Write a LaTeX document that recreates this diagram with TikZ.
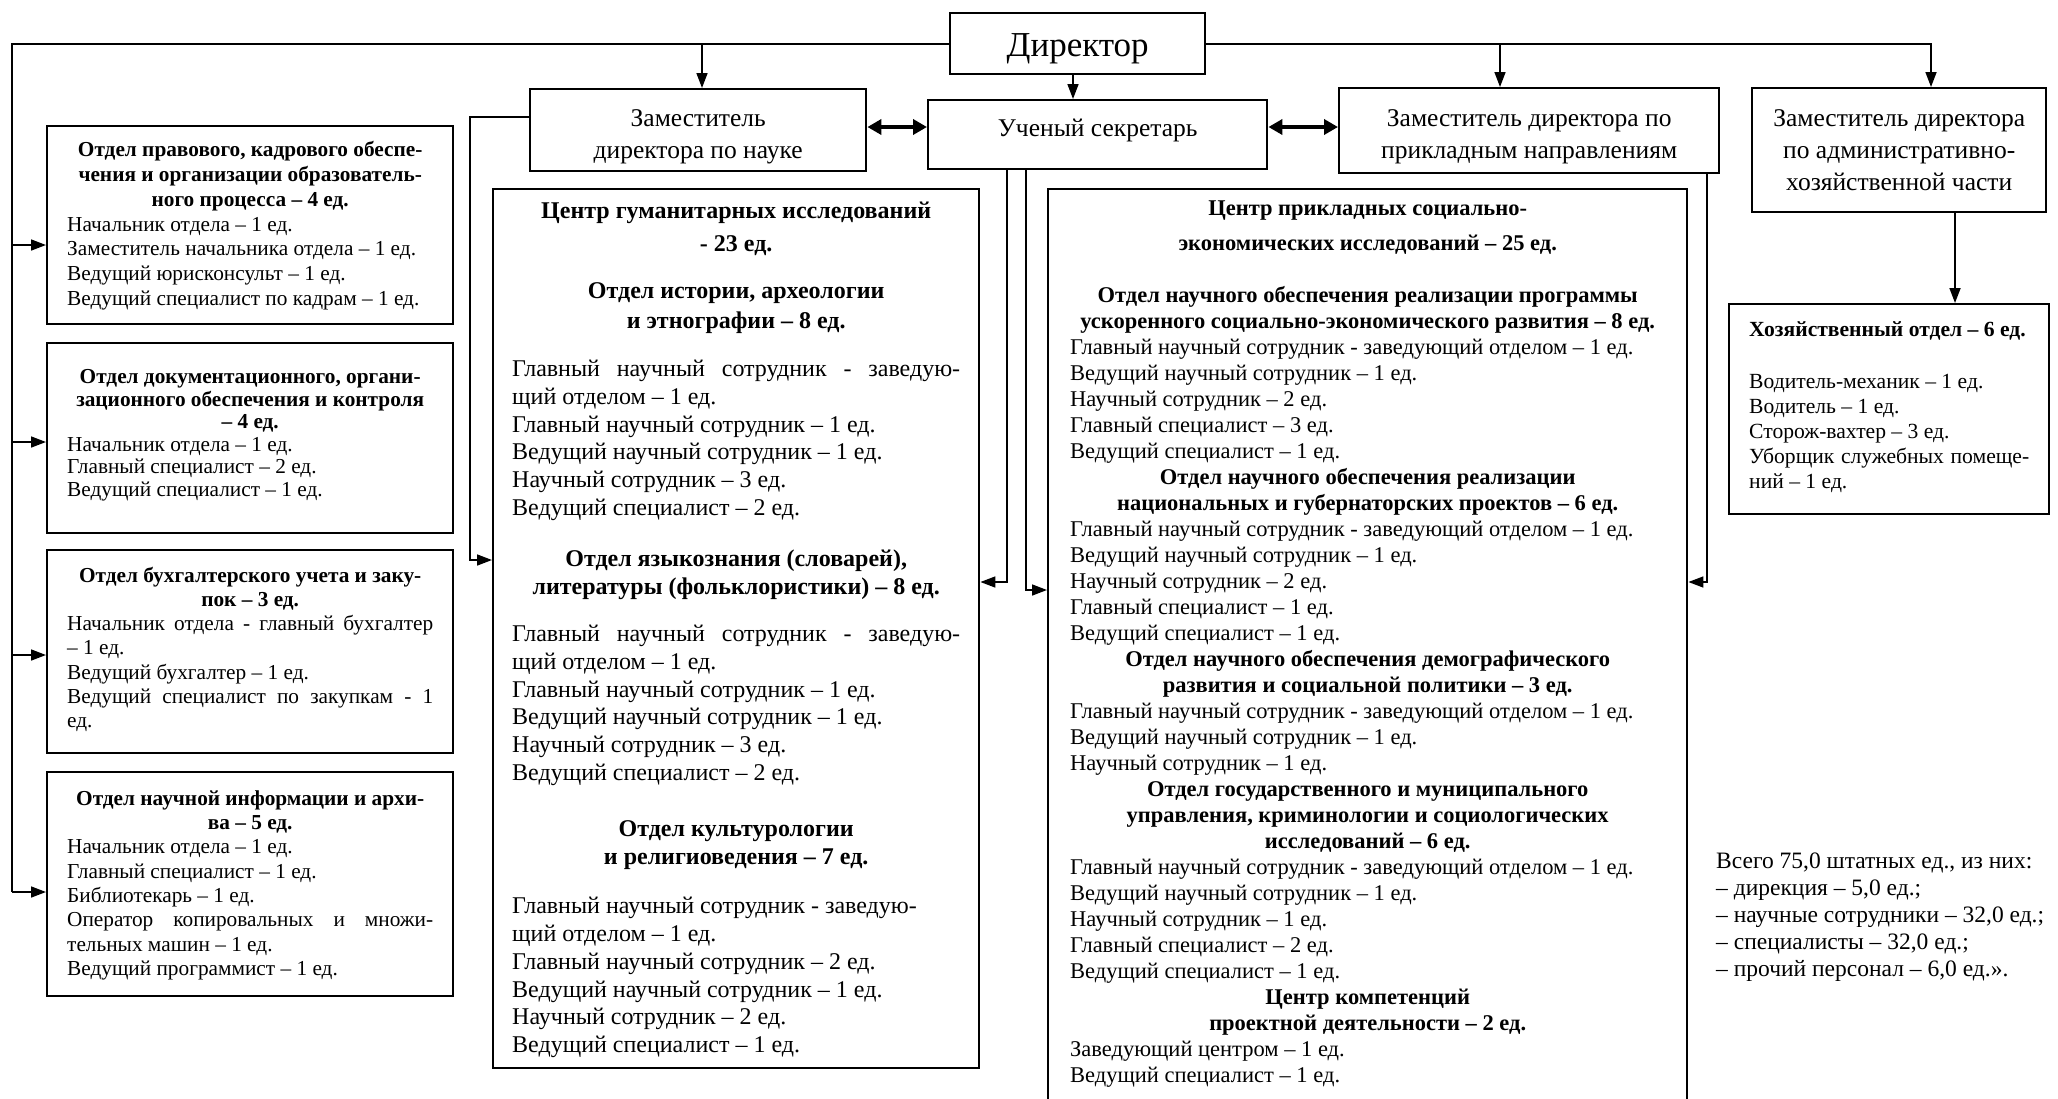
\documentclass[tikz,border=0pt]{standalone}
\usepackage{fontspec}
\setmainfont{Liberation Serif}
\usetikzlibrary{arrows.meta}
\newcommand\mkbox[6]{\parbox[c][#2pt][t]{#1pt}{\fontsize{#4pt}{#5pt}\selectfont\vspace*{#3pt}#6}}
\newcommand\lineC[1]{\makebox[\linewidth][c]{\strut #1}\par}
\newcommand\lineL[1]{\makebox[\linewidth][l]{\strut #1}\par}
\newcommand\lineJ[1]{\makebox[\linewidth][s]{\strut #1}\par}
\newcommand\gapv[1]{\vspace{#1pt}}
\tikzset{
  conn/.style={line width=1.6pt},
  arr/.style={line width=1.6pt, -{Triangle[length=15pt,width=11pt]}},
  dbl/.style={line width=3.8pt, {Triangle[length=14pt,width=15pt]}-{Triangle[length=14pt,width=15pt]}},
  box/.style={draw, line width=2.4pt, inner ysep=0pt, inner xsep=#1, anchor=north west},
  box/.default=0pt
}
\begin{document}
\begin{tikzpicture}[x=1pt,y=-1pt]
\useasboundingbox (0,0) rectangle (2058,1098);
\fill[white] (0,0) rectangle (2058,1098);

% top row
\node[box] (dir) at (949,12) {\mkbox{255}{61}{15}{35}{40}{\lineC{Директор}}};
\node[box] (zn) at (529,88) {\mkbox{336}{82}{14.6}{25.5}{32}{\lineC{Заместитель}\lineC{директора по науке}}};
\node[box] (us) at (927,99) {\mkbox{339}{69}{13.6}{25.5}{32}{\lineC{Ученый секретарь}}};
\node[box] (zp) at (1338,87) {\mkbox{380}{85}{15.6}{25.5}{32}{\lineC{Заместитель директора по}\lineC{прикладным направлениям}}};
\node[box] (ahc) at (1751,87) {\mkbox{294}{124}{16}{25.5}{32}{\lineC{Заместитель директора}\lineC{по административно-}\lineC{хозяйственной части}}};

% left column
\node[box=20pt] (b1) at (46,125) {\mkbox{366}{198}{13.5}{21.3}{24.7}{%
\lineC{\bfseries Отдел правового, кадрового обеспе-}
\lineC{\bfseries чения и организации образователь-}
\lineC{\bfseries ного процесса – 4 ед.}
\lineL{Начальник отдела – 1 ед.}
\lineL{Заместитель начальника отдела – 1 ед.}
\lineL{Ведущий юрисконсульт – 1 ед.}
\lineL{Ведущий специалист по кадрам – 1 ед.}}};

\node[box=20pt] (b2) at (46,342) {\mkbox{366}{190}{24.5}{21.3}{22.6}{%
\lineC{\bfseries Отдел документационного, органи-}
\lineC{\bfseries зационного обеспечения и контроля}
\lineC{\bfseries – 4 ед.}
\lineL{Начальник отдела – 1 ед.}
\lineL{Главный специалист – 2 ед.}
\lineL{Ведущий специалист – 1 ед.}}};

\node[box=20pt] (b3) at (46,549) {\mkbox{366}{203}{15.1}{21.3}{24.2}{%
\lineC{\bfseries Отдел бухгалтерского учета и заку-}
\lineC{\bfseries пок – 3 ед.}
\lineJ{Начальник отдела - главный бухгалтер}
\lineL{– 1 ед.}
\lineL{Ведущий бухгалтер – 1 ед.}
\lineJ{Ведущий специалист по закупкам - 1}
\lineL{ед.}}};

\node[box=20pt] (b4) at (46,771) {\mkbox{366}{224}{16}{21.3}{24.3}{%
\lineC{\bfseries Отдел научной информации и архи-}
\lineC{\bfseries ва – 5 ед.}
\lineL{Начальник отдела – 1 ед.}
\lineL{Главный специалист – 1 ед.}
\lineL{Библиотекарь – 1 ед.}
\lineJ{Оператор копировальных и множи-}
\lineL{тельных машин – 1 ед.}
\lineL{Ведущий программист – 1 ед.}}};

% centre left
\node[box=19pt] (cl) at (492,188) {\mkbox{448}{879}{10.1}{24}{27.7}{%
\lineC{\bfseries Центр гуманитарных исследований}
\gapv{5.3}\lineC{\bfseries - 23 ед.}
\gapv{19.3}\lineC{\bfseries Отдел истории, археологии}
\gapv{2.3}\lineC{\bfseries и этнографии – 8 ед.}
\gapv{20.3}\lineJ{Главный научный сотрудник - заведую-}
\lineL{щий отделом – 1 ед.}
\lineL{Главный научный сотрудник – 1 ед.}
\lineL{Ведущий научный сотрудник – 1 ед.}
\lineL{Научный сотрудник – 3 ед.}
\lineL{Ведущий специалист – 2 ед.}
\gapv{24}\lineC{\bfseries Отдел языкознания (словарей),}
\lineC{\bfseries литературы (фольклористики) – 8 ед.}
\gapv{19.5}\lineJ{Главный научный сотрудник - заведую-}
\lineL{щий отделом – 1 ед.}
\lineL{Главный научный сотрудник – 1 ед.}
\lineL{Ведущий научный сотрудник – 1 ед.}
\lineL{Научный сотрудник – 3 ед.}
\lineL{Ведущий специалист – 2 ед.}
\gapv{28.5}\lineC{\bfseries Отдел культурологии}
\lineC{\bfseries и религиоведения – 7 ед.}
\gapv{22}\lineL{Главный научный сотрудник - заведую-}
\lineL{щий отделом – 1 ед.}
\lineL{Главный научный сотрудник – 2 ед.}
\lineL{Ведущий научный сотрудник – 1 ед.}
\lineL{Научный сотрудник – 2 ед.}
\lineL{Ведущий специалист – 1 ед.}}};

% centre right
\node[box=22pt] (cr) at (1047,188) {\mkbox{595}{925}{7.8}{22.5}{26}{%
\lineC{\bfseries Центр прикладных социально-}
\gapv{9}\lineC{\bfseries экономических исследований – 25 ед.}
\gapv{26}\lineC{\bfseries Отдел научного обеспечения реализации программы}
\lineC{\bfseries ускоренного социально-экономического развития – 8 ед.}
\lineL{Главный научный сотрудник - заведующий отделом – 1 ед.}
\lineL{Ведущий научный сотрудник – 1 ед.}
\lineL{Научный сотрудник – 2 ед.}
\lineL{Главный специалист – 3 ед.}
\lineL{Ведущий специалист – 1 ед.}
\lineC{\bfseries Отдел научного обеспечения реализации}
\lineC{\bfseries национальных и губернаторских проектов – 6 ед.}
\lineL{Главный научный сотрудник - заведующий отделом – 1 ед.}
\lineL{Ведущий научный сотрудник – 1 ед.}
\lineL{Научный сотрудник – 2 ед.}
\lineL{Главный специалист – 1 ед.}
\lineL{Ведущий специалист – 1 ед.}
\lineC{\bfseries Отдел научного обеспечения демографического}
\lineC{\bfseries развития и социальной политики – 3 ед.}
\lineL{Главный научный сотрудник - заведующий отделом – 1 ед.}
\lineL{Ведущий научный сотрудник – 1 ед.}
\lineL{Научный сотрудник – 1 ед.}
\lineC{\bfseries Отдел государственного и муниципального}
\lineC{\bfseries управления, криминологии и социологических}
\lineC{\bfseries исследований – 6 ед.}
\lineL{Главный научный сотрудник - заведующий отделом – 1 ед.}
\lineL{Ведущий научный сотрудник – 1 ед.}
\lineL{Научный сотрудник – 1 ед.}
\lineL{Главный специалист – 2 ед.}
\lineL{Ведущий специалист – 1 ед.}
\lineC{\bfseries Центр компетенций}
\lineC{\bfseries проектной деятельности – 2 ед.}
\lineL{Заведующий центром – 1 ед.}
\lineL{Ведущий специалист – 1 ед.}}};

% right column
\node[box=20pt] (hoz) at (1728,303) {\mkbox{280}{210}{14.5}{21.6}{25}{%
\lineL{\bfseries Хозяйственный отдел – 6 ед.}
\gapv{27}\lineL{Водитель-механик – 1 ед.}
\lineL{Водитель – 1 ед.}
\lineL{Сторож-вахтер – 3 ед.}
\lineJ{Уборщик служебных помеще-}
\lineL{ний – 1 ед.}}};

\node[anchor=north west, inner sep=0pt] (tot) at (1716,849) {\mkbox{340}{140}{0}{23.5}{27}{%
\lineL{Всего 75,0 штатных ед., из них:}
\lineL{– дирекция – 5,0 ед.;}
\lineL{– научные сотрудники – 32,0 ед.;}
\lineL{– специалисты – 32,0 ед.;}
\lineL{– прочий персонал – 6,0 ед.».}}};

% connectors
\coordinate (lb) at (12,892);
\draw[conn] (dir.west) -| (lb);
\coordinate (a1) at (12,245);
\coordinate (a2) at (12,442);
\coordinate (a3) at (12,655);
\draw[arr] (a1) -- (a1 -| b1.west);
\draw[arr] (a2) -- (a2 -| b2.west);
\draw[arr] (a3) -- (a3 -| b3.west);
\draw[arr] (lb) -- (lb -| b4.west);

\coordinate (ra) at (1931,0);
\draw[arr] (dir.east) -| (ra |- ahc.north);
\coordinate (t1) at (702,0);
\draw[arr] (t1 |- dir.west) -- (t1 |- zn.north);
\coordinate (t2) at (1500,0);
\draw[arr] (t2 |- dir.east) -- (t2 |- zp.north);
\coordinate (t3) at (1073,0);
\draw[arr] (t3 |- dir.south) -- (t3 |- us.north);

\coordinate (dy) at (0,127);
\draw[dbl] (zn.east |- dy) -- (us.west |- dy);
\draw[dbl] (us.east |- dy) -- (zp.west |- dy);

\coordinate (c1) at (470,117);
\coordinate (c2) at (470,560);
\draw[arr] (zn.west |- c1) -- (c1) -- (c2) -- (c2 -| cl.west);

\coordinate (u1) at (1007,582);
\draw[arr] (u1 |- us.south) -- (u1) -- (u1 -| cl.east);
\coordinate (u2) at (1026,590);
\draw[arr] (u2 |- us.south) -- (u2) -- (u2 -| cr.west);

\coordinate (p1) at (1707,582);
\draw[arr] (p1 |- zp.south) -- (p1) -- (p1 -| cr.east);

\coordinate (h1) at (1955,0);
\draw[arr] (h1 |- ahc.south) -- (h1 |- hoz.north);
\end{tikzpicture}
\end{document}
